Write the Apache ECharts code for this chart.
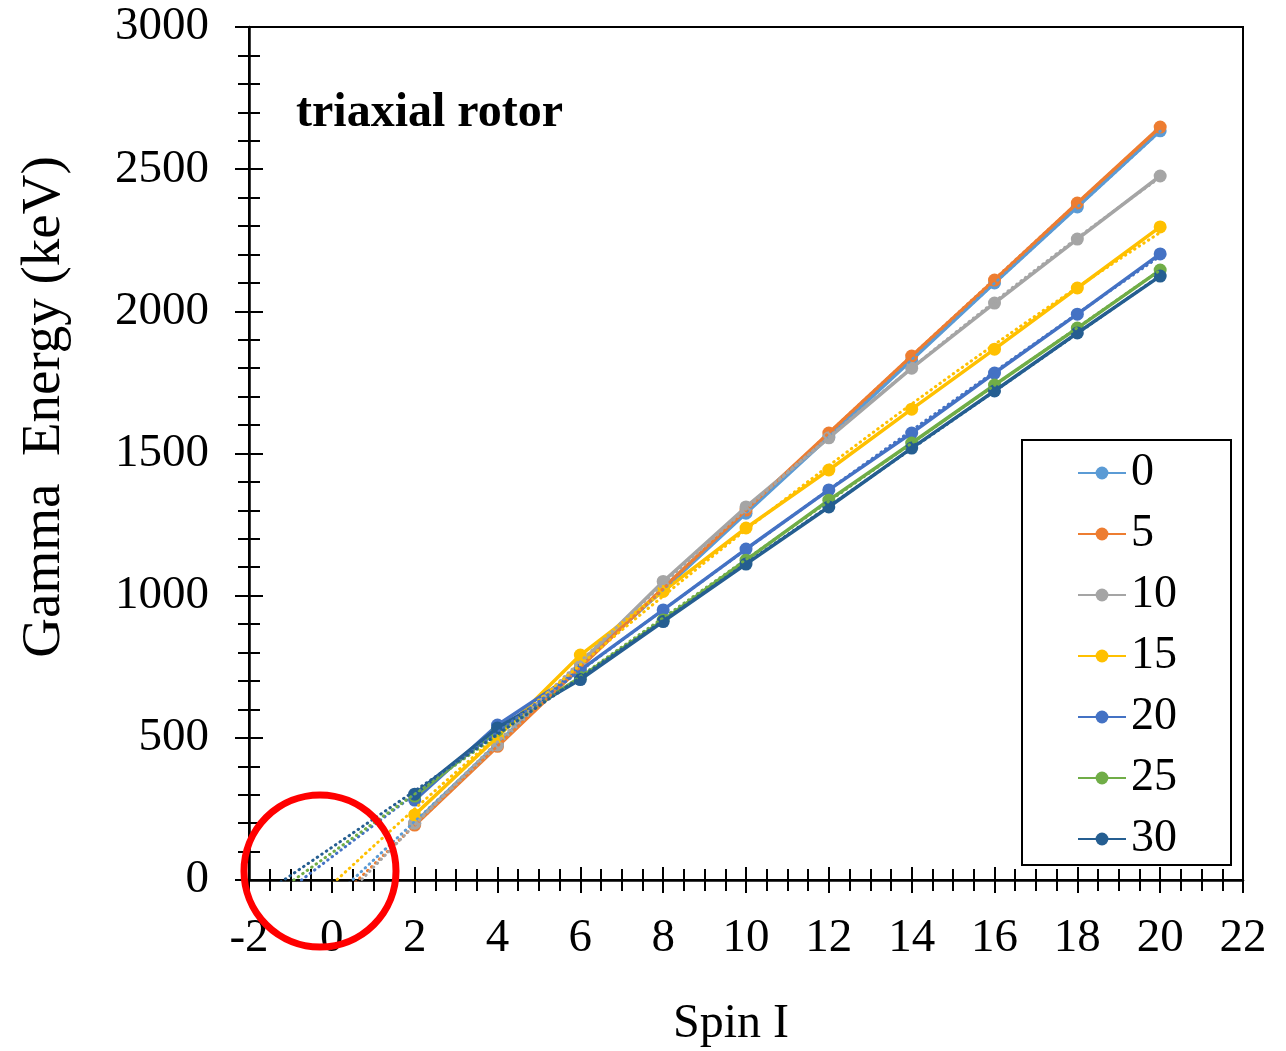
<!DOCTYPE html>
<html>
<head>
<meta charset="utf-8">
<title>triaxial rotor</title>
<script src="https://cdn.jsdelivr.net/npm/echarts@6/dist/echarts.min.js"></script>
<style>
  html, body { margin: 0; padding: 0; background: #ffffff; }
  #chart { width: 1286px; height: 1051px; }
</style>
</head>
<body>
<div id="chart"></div>
<script>
// Spin values of the transitions (I -> I-2)
const spins = [2, 4, 6, 8, 10, 12, 14, 16, 18, 20];

// Gamma-ray energies (keV) for each triaxiality parameter gamma (deg)
const gammaNames = ['0', '5', '10', '15', '20', '25', '30'];
const egamma0  = [200, 480, 760, 1020, 1290, 1558, 1829, 2100, 2367, 2635];
const egamma5  = [193, 470, 748, 1027, 1301, 1572, 1843, 2110, 2381, 2648];
const egamma10 = [200, 475, 763, 1050, 1312, 1555, 1800, 2029, 2254, 2476];
const egamma15 = [229, 503, 791, 1015, 1238, 1442, 1656, 1867, 2082, 2297];
const egamma20 = [281, 545, 738, 950, 1164, 1372, 1572, 1783, 1990, 2202];
const egamma25 = [295, 527, 712, 914, 1125, 1336, 1537, 1741, 1941, 2145];
const egamma30 = [302, 535, 705, 909, 1111, 1312, 1519, 1720, 1924, 2124];
const energies = [egamma0, egamma5, egamma10, egamma15, egamma20, egamma25, egamma30];

// Axis ranges
const xMin = -2, xMax = 22, xStep = 2;
const yMin = 0, yMax = 3000, yStep = 500;

const colors = ['#5B9BD5', '#ED7D31', '#A5A5A5', '#FFC000', '#4472C4', '#70AD47', '#255E91'];
const serif = '"Liberation Serif", "Times New Roman", serif';

// Second-order least-squares trend y = a + b x + c x^2
function fitQuadratic(xs, ys) {
  const s = [0, 0, 0, 0, 0], t = [0, 0, 0];
  for (let i = 0; i < xs.length; i++) {
    let p = 1;
    for (let k = 0; k < 5; k++) {
      s[k] += p;
      if (k < 3) t[k] += p * ys[i];
      p *= xs[i];
    }
  }
  const M = [
    [s[0], s[1], s[2], t[0]],
    [s[1], s[2], s[3], t[1]],
    [s[2], s[3], s[4], t[2]]
  ];
  for (let i = 0; i < 3; i++) {
    for (let j = i + 1; j < 3; j++) {
      const f = M[j][i] / M[i][i];
      for (let k = i; k < 4; k++) M[j][k] -= f * M[i][k];
    }
  }
  const c = [0, 0, 0];
  for (let i = 2; i >= 0; i--) {
    let v = M[i][3];
    for (let k = i + 1; k < 3; k++) v -= M[i][k] * c[k];
    c[i] = v / M[i][i];
  }
  return c;
}

// Trend curve sampled along the spin axis, extended backward to the axis start
function trendCurve(ys) {
  const c = fitQuadratic(spins, ys);
  const pts = [];
  const last = spins[spins.length - 1];
  for (let i = 0; xMin + i * 0.1 <= last + 1e-9; i++) {
    const x = xMin + i * 0.1;
    pts.push([x, c[0] + c[1] * x + c[2] * x * x]);
  }
  return pts;
}

const mainSeries = gammaNames.map((name, i) => ({
  name: name,
  type: 'line',
  data: spins.map((s, j) => [s, energies[i][j]]),
  symbol: 'circle',
  symbolSize: 13,
  lineStyle: { width: 3.5, color: colors[i] },
  itemStyle: { color: colors[i] },
  z: 3 + i
}));

const trendSeries = gammaNames.map((name, i) => ({
  name: name + ' trend',
  type: 'line',
  data: trendCurve(energies[i]),
  symbol: 'none',
  clip: true,
  silent: true,
  lineStyle: { width: 3, color: colors[i], type: [0.5, 5], cap: 'round' },
  z: 12
}));

const tickColor = '#000000';
const plainNumber = v => String(v);

function xAxisBase(inside) {
  return {
    type: 'value', min: xMin, max: xMax, interval: xStep, position: 'bottom',
    axisLine: { show: !inside, onZero: false, lineStyle: { color: tickColor, width: 2.5 } },
    axisTick: { show: true, inside: inside, length: 13, lineStyle: { color: tickColor, width: 2 } },
    minorTick: { show: true, splitNumber: 4, length: 11, lineStyle: { color: tickColor, width: 2 } },
    axisLabel: { show: !inside, margin: 35, color: '#000', fontFamily: serif, fontSize: 47, formatter: plainNumber },
    splitLine: { show: false }, minorSplitLine: { show: false }
  };
}
function yAxisBase(inside) {
  return {
    type: 'value', min: yMin, max: yMax, interval: yStep, position: 'left',
    axisLine: { show: !inside, onZero: false, lineStyle: { color: tickColor, width: 2.5 } },
    axisTick: { show: true, inside: inside, length: 14, lineStyle: { color: tickColor, width: 2 } },
    minorTick: { show: true, splitNumber: 5, length: 11, lineStyle: { color: tickColor, width: 2 } },
    axisLabel: { show: !inside, margin: 40, color: '#000', fontFamily: serif, fontSize: 47, formatter: plainNumber },
    splitLine: { show: false }, minorSplitLine: { show: false }
  };
}

const chart = echarts.init(document.getElementById('chart'), null, { renderer: 'canvas' });
chart.setOption({
  animation: false,
  backgroundColor: '#ffffff',
  grid: {
    left: 249, right: 43, top: 27, bottom: 171,
    show: true, borderColor: '#000', borderWidth: 2, backgroundColor: 'transparent'
  },
  xAxis: [xAxisBase(false), xAxisBase(true)],
  yAxis: [yAxisBase(false), yAxisBase(true)],
  legend: {
    data: gammaNames,
    orient: 'vertical',
    left: 1022, top: 440,
    padding: [10, 54, 3, 55],
    itemGap: 15,
    itemWidth: 48,
    itemHeight: 16,
    borderColor: '#000', borderWidth: 2,
    backgroundColor: '#fff',
    textStyle: { color: '#000', fontFamily: serif, fontSize: 46, lineHeight: 46 }
  },
  series: mainSeries.concat(trendSeries),
  graphic: [
    {
      type: 'text', x: 45, y: 407, rotation: Math.PI / 2,
      style: { text: 'Gamma  Energy (keV)', font: '55px ' + serif, fill: '#000', align: 'center', verticalAlign: 'middle' }
    },
    {
      type: 'text', x: 731, y: 1024,
      style: { text: 'Spin I', font: '48px ' + serif, fill: '#000', align: 'center', verticalAlign: 'middle' }
    },
    {
      type: 'text', x: 296, y: 114,
      style: { text: 'triaxial rotor', font: 'bold 48px ' + serif, fill: '#000', align: 'left', verticalAlign: 'middle' }
    },
    {
      type: 'circle', z: 100,
      shape: { cx: 320, cy: 871, r: 76 },
      style: { fill: 'none', stroke: '#FF0000', lineWidth: 7 }
    }
  ]
});
</script>
</body>
</html>
